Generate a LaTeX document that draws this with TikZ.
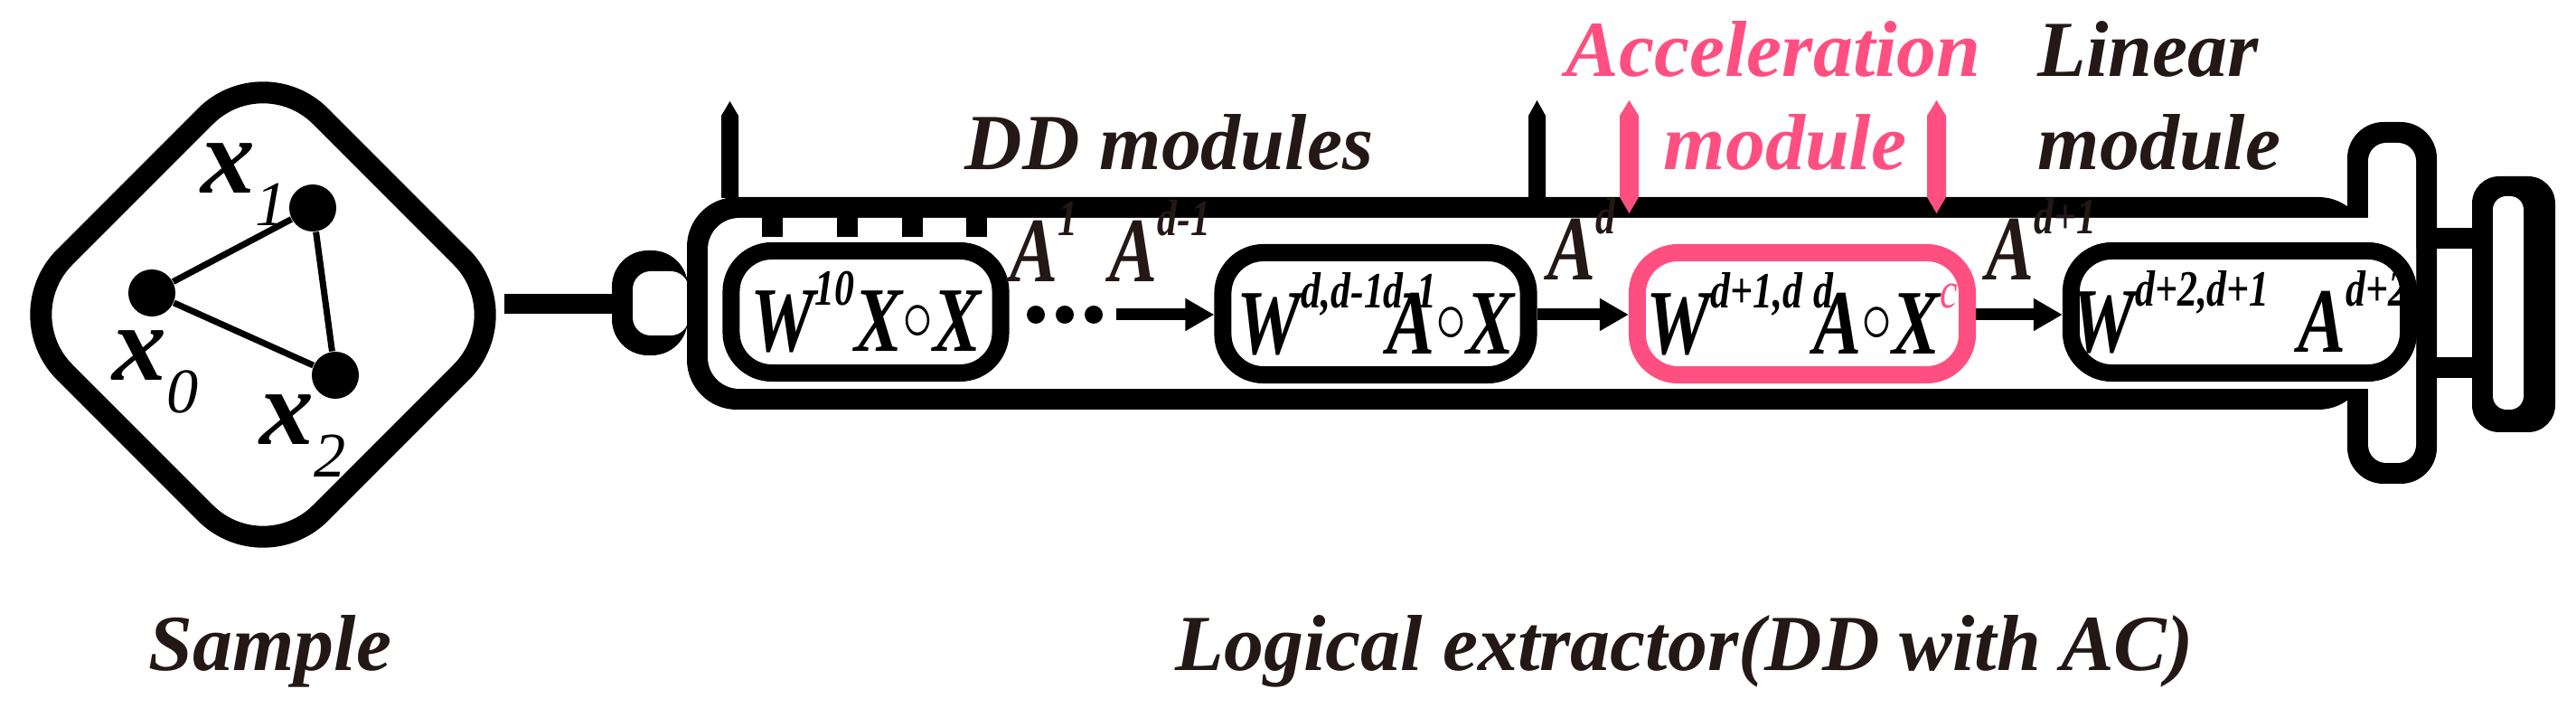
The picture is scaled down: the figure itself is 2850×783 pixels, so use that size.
\documentclass[tikz,border=0pt]{standalone}
\usepackage{fontspec}
\setmainfont{Liberation Serif}
\usetikzlibrary{arrows.meta}
\definecolor{ink}{HTML}{231815}
\definecolor{pk}{HTML}{FF4F81}
\newcommand\upx[1]{\raisebox{0.5em}{\fontsize{16}{16}\selectfont #1}}
\newcommand\ocirc{\raisebox{0.12em}{$\circ$}}
\newcommand\sq[1]{\scalebox{0.78}[1]{#1}}
\begin{document}
\begin{tikzpicture}[x=0.01cm,y=-0.01cm,
  lbl/.style={inner sep=0,anchor=base west,text=ink,font=\fontsize{25}{25}\selectfont\bfseries\itshape},
  mod/.style={draw=black,line width=0.19cm,rounded corners=0.45cm,minimum height=1.35cm,inner sep=0,
     font=\fontsize{29}{29}\selectfont\bfseries\itshape},
  conn/.style={line width=0.13cm,-{Triangle[length=0.32cm,width=0.34cm]}},
  dot/.style={circle,fill=black,inner sep=0,minimum size=0.52cm},
  edge/.style={line width=0.07cm}]
\useasboundingbox (0,0) rectangle (2850,783);
% sample
\draw[line width=0.24cm,rounded corners=0.9cm] (291,348) ++(0,-283) -- ++(283,283) -- ++(-283,283) -- ++(-283,-283) -- cycle;
\node[dot] (x1) at (346,230) {};
\node[dot] (x0) at (168,324) {};
\node[dot] (x2) at (371,415) {};
\draw[edge] (x0) -- (x1) (x1) -- (x2) (x0) -- (x2);
\node[inner sep=0,anchor=base west] (l1) at (222,214) {\fontsize{34}{34}\selectfont\bfseries\itshape x\raisebox{-0.3em}{\fontsize{20}{20}\selectfont\mdseries 1}};
\node[inner sep=0,anchor=base west] (l0) at (124,421) {\fontsize{34}{34}\selectfont\bfseries\itshape x\raisebox{-0.3em}{\fontsize{20}{20}\selectfont\mdseries 0}};
\node[inner sep=0,anchor=base west] (l2) at (287,492) {\fontsize{34}{34}\selectfont\bfseries\itshape x\raisebox{-0.3em}{\fontsize{20}{20}\selectfont\mdseries 2}};
% connector bar and nozzle
\fill (558,325) rectangle (677,347);
\fill[rounded corners=0.4cm] (761,277) -- (677,277) -- (677,393) -- (761,393) -- cycle;
\fill[white,rounded corners=0.2cm] (762,300) -- (700,300) -- (700,371) -- (762,371) -- cycle;
% barrel and flange
\fill[rounded corners=0.55cm] (2620,218) -- (760,218) -- (760,453) -- (2620,453) -- cycle;
\fill[rounded corners=0.4cm] (2597,135) rectangle (2696,535);
\fill[white,rounded corners=0.35cm] (2673,241) -- (783,241) -- (783,430) -- (2673,430) -- cycle;
\fill[white,rounded corners=0.2cm] (2620,158) rectangle (2673,512);
% plunger
\fill (2690,252) rectangle (2758,275);
\fill (2690,395) rectangle (2758,418);
\fill[rounded corners=0.3cm] (2735,195) rectangle (2827,478);
\fill[white,rounded corners=0.15cm] (2758,217) rectangle (2792,453);
% ticks
\foreach \a in {843,926,998,1069} \fill (\a,240) rectangle ++(23,22);
% spikes
\fill (798,219) -- (798,128) -- (807.5,112) -- (817,128) -- (817,219) -- cycle;
\fill (1691,219) -- (1691,128) -- (1700.5,111) -- (1710,128) -- (1710,219) -- cycle;
\foreach \a in {1792,2132} \fill[pk] (\a,128) -- (\a+10.5,111) -- (\a+21,128) -- (\a+21,218) -- (\a+10.5,236) -- (\a,218) -- cycle;
% modules
\node[mod,minimum width=2.98cm] (m1) at (958,345) {\sq{W\upx{10}X\ocirc X}};
\node[mod,minimum width=3.38cm] (m2) at (1522,347) {\sq{W\upx{d,d-1}\hbox to 0pt{\upx{d-1}\hss}\kern0.05em A\ocirc X}};
\node[mod,draw=pk,minimum width=3.65cm] (m3) at (1994,347) {\sq{W\upx{d+1,d}\kern0.15em\hbox to 0pt{\upx{d}\hss}A\ocirc X\upx{\color{pk}\mdseries c}}};
\node[mod,minimum width=3.66cm] (m4) at (2478,345) {\sq{W\upx{d+2,d+1}\kern0.4em A\upx{d+2}}};
% dots and arrows
\foreach \a [count=\i] in {1146,1178,1210} \node[circle,fill=black,inner sep=0,minimum size=0.2cm] (d\i) at (\a,348) {};
\coordinate (s1) at (1235,348);
\draw[conn] (s1) -- (m2.west|-s1);
\draw[conn] (m2.east|-s1) -- (m3.west|-s1);
\draw[conn] (m3.east|-s1) -- (m4.west|-s1);
% A labels
\node[lbl,font=\fontsize{29}{29}\selectfont\bfseries\itshape] (a1) at (1117,312) {\sq{A\upx{1}}};
\node[lbl,font=\fontsize{29}{29}\selectfont\bfseries\itshape] (a2) at (1227,312) {\sq{A\upx{d-1}}};
\node[lbl,font=\fontsize{29}{29}\selectfont\bfseries\itshape] (a3) at (1712,310) {\sq{A\upx{d}}};
\node[lbl,font=\fontsize{29}{29}\selectfont\bfseries\itshape] (a4) at (2197,310) {\sq{A\upx{d+1}}};
% titles
\node[lbl] (t1) at (1067,188) {DD modules};
\node[lbl,text=pk] (t2) at (1732,85) {Acceleration};
\node[lbl,text=pk] (t3) at (1840,188) {module};
\node[lbl] (t4) at (2254,85) {Linear};
\node[lbl] (t5) at (2254,188) {module};
\node[lbl] (t6) at (164,742) {Sample};
\node[lbl] (t7) at (1300,742) {Logical extractor(DD with AC)};
\end{tikzpicture}
\end{document}
